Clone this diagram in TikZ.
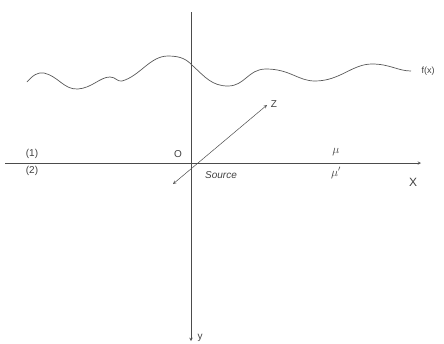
\documentclass[tikz,border=0pt]{standalone}
\usepackage{fontspec}
\setsansfont{Liberation Sans}
\begin{document}
\begin{tikzpicture}[
    x=1pt, y=-1pt,
    axis/.style={->, >=stealth, black!70, line width=0.5pt},
    lbl/.style={font=\sffamily\normalsize, text=black!75, inner sep=1pt},
    surf/.style={black!65, line width=0.7pt}
]
    \useasboundingbox (0,0) rectangle (444,343);

    % Axes
    \coordinate (xs) at (5,163);
    \coordinate (xe) at (421,163);
    \coordinate (ys) at (191,12);
    \coordinate (ye) at (191,341);
    \coordinate (zs) at (173,184);
    \coordinate (ze) at (267,105);
    \draw[axis] (xs) -- (xe);
    \draw[axis] (ys) -- (ye);
    \draw[axis, <->] (zs) -- (ze);

    % Surface f(x)
    \draw[surf] (27,82) .. controls (33,75) and (38,72) .. (44,73)
        .. controls (58,76) and (64,90) .. (78,89)
        .. controls (92,88) and (100,77) .. (110,77)
        .. controls (116,77) and (117,82) .. (122,81)
        .. controls (140,76) and (150,56) .. (168,56)
        .. controls (182,56) and (187,60) .. (193,66)
        .. controls (205,77) and (212,86) .. (228,86)
        .. controls (245,86) and (248,69) .. (266,69)
        .. controls (290,69) and (298,81) .. (315,81)
        .. controls (340,81) and (352,64) .. (372,64)
        .. controls (390,64) and (398,71) .. (411,71);

    % Labels
    \node[lbl, font=\sffamily\small] (fx) at (428,71) {f(x)};
    \node[lbl] (zl) at (274,104) {Z};
    \node[lbl, font=\sffamily\large] (xl) at (413,182) {X};
    \node[lbl] (yl) at (200,338) {y};
    \node[lbl] (ol) at (178,154) {O};
    \node[lbl, font=\sffamily\normalsize\itshape] (src) at (221,175) {Source};
    \node[lbl] (m1) at (32,154) {(1)};
    \node[lbl] (m2) at (32,171) {(2)};
    \node[lbl, font=\large] (mu) at (336,152) {$\mu$};
    \node[lbl, font=\large] (mup) at (336,173) {$\mu'$};
\end{tikzpicture}
\end{document}
